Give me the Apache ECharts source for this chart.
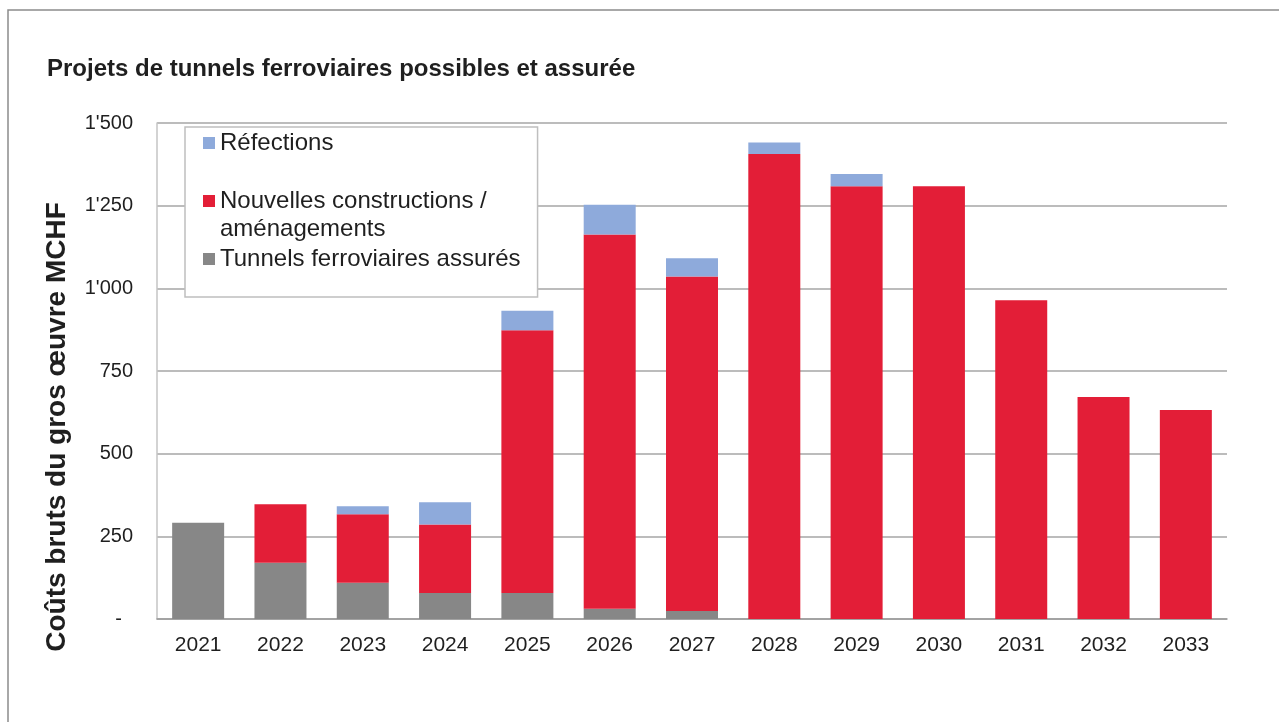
<!DOCTYPE html>
<html>
<head>
<meta charset="utf-8">
<script src="https://cdn.jsdelivr.net/npm/echarts@6/dist/echarts.min.js"></script>
<style>
  html, body { margin: 0; padding: 0; background: #fff; }
  #chart { width: 1279px; height: 722px; }
</style>
</head>
<body>
<div id="chart"></div>
<script>
const years = ["2021", "2022", "2023", "2024", "2025", "2026", "2027", "2028", "2029", "2030", "2031", "2032", "2033"];
// stacked from bottom to top
const assures = [291, 170, 110, 79, 79, 31, 24, 0, 0, 0, 0, 0, 0];
const nouvelles = [0, 177, 207, 207, 794, 1132, 1012, 1406, 1309, 1309, 964, 671, 632];
const refections = [0, 0, 24, 67, 59, 90, 55, 35, 37, 0, 0, 0, 0];
const yTickLabels = ["-", "250", "500", "750", "1'000", "1'250", "1'500"];

const names = {
  refections: "Réfections",
  nouvelles: "Nouvelles constructions /\naménagements",
  assures: "Tunnels ferroviaires assurés"
};
const colors = { refections: "#8eaadb", nouvelles: "#e31e37", assures: "#878787" };
const textColor = "#1f1f1f";
const font = "Arial, 'Liberation Sans', sans-serif";

const chart = echarts.init(document.getElementById("chart"), null, { renderer: "canvas" });

function bar(key, data) {
  return {
    name: names[key],
    type: "bar",
    stack: "total",
    barWidth: 52,
    data,
    itemStyle: { color: colors[key] },
    emphasis: { disabled: true }
  };
}

chart.setOption({
  animation: false,
  backgroundColor: "#fff",
  textStyle: { fontFamily: font, color: textColor },
  title: {
    text: "Projets de tunnels ferroviaires possibles et assurée",
    left: 47,
    top: 57,
    padding: 0,
    textStyle: { fontSize: 24, fontWeight: "bold", color: textColor, fontFamily: font }
  },
  graphic: [
    {
      type: "rect",
      silent: true,
      z: -10,
      shape: { x: 8, y: 10, width: 1400, height: 900 },
      style: { fill: "none", stroke: "#8c8c8c", lineWidth: 1.5 }
    },
    {
      type: "text",
      x: 57,
      y: 427,
      rotation: Math.PI / 2,
      style: {
        text: "Coûts bruts du gros œuvre MCHF",
        fontSize: 28,
        fontWeight: "bold",
        fontFamily: font,
        fill: textColor,
        align: "center",
        verticalAlign: "middle"
      }
    }
  ],
  legend: {
    orient: "vertical",
    left: 185,
    top: 127,
    padding: [2, 17, 24, 18],
    itemGap: 2,
    itemWidth: 12,
    itemHeight: 12,
    icon: "rect",
    backgroundColor: "#fff",
    borderColor: "#bfbfbf",
    borderWidth: 1.5,
    selectedMode: false,
    textStyle: { fontSize: 24, lineHeight: 28, color: textColor, fontFamily: font },
    // empty first line keeps the marker level with the first line of the two-line entry
    formatter: (name) => (name === names.nouvelles ? "\n" + name : name),
    data: [names.refections, names.nouvelles, names.assures]
  },
  grid: { left: 157, right: 52, top: 123, bottom: 103 },
  xAxis: {
    type: "category",
    data: years,
    axisLine: { lineStyle: { color: "#9a9a9a", width: 1.5 } },
    axisTick: { show: false },
    axisLabel: { fontSize: 21, color: textColor, margin: 16 }
  },
  yAxis: {
    type: "value",
    min: 0,
    max: 1500,
    interval: 250,
    axisLine: { show: true, lineStyle: { color: "#c4c4c4", width: 1.5 } },
    axisTick: { show: false },
    splitLine: { lineStyle: { color: "#a6a6a6", width: 1.5 } },
    axisLabel: {
      fontSize: 20,
      color: textColor,
      margin: 24,
      formatter: (v) => {
        const label = yTickLabels[Math.round(v / 250)];
        return v === 0 ? "{d|" + label + "}" : label;
      },
      rich: { d: { fontSize: 20, color: textColor, padding: [0, 11, 0, 0] } }
    }
  },
  series: [
    bar("assures", assures),
    bar("nouvelles", nouvelles),
    bar("refections", refections)
  ]
});
</script>
</body>
</html>
